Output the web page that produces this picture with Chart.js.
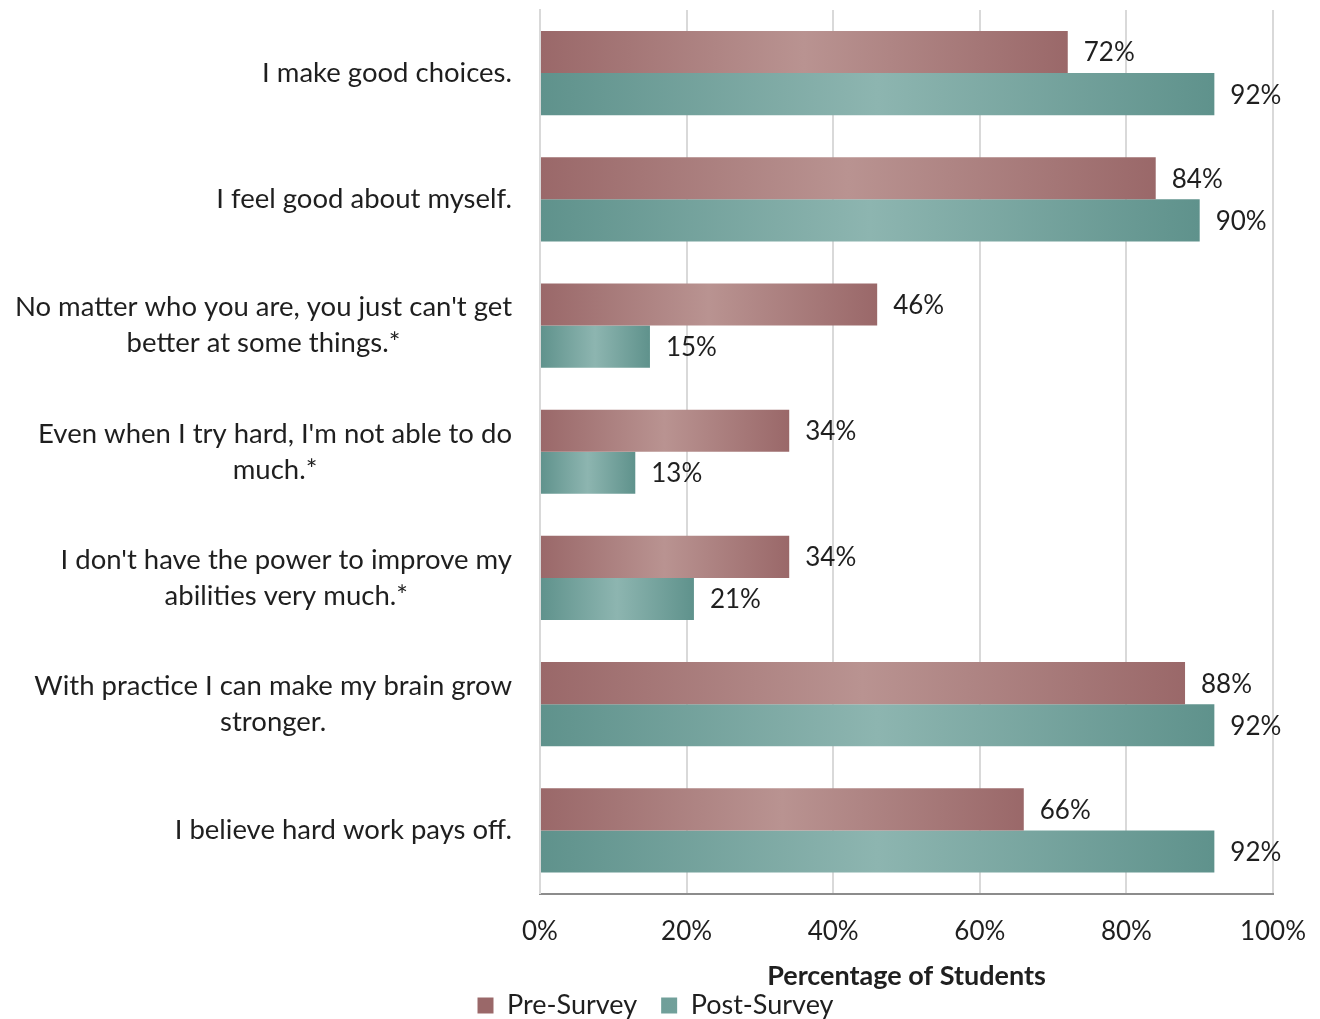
<!DOCTYPE html>
<html>
<head>
<meta charset="utf-8">
<script src="https://cdn.jsdelivr.net/npm/chart.js@4.4.1/dist/chart.umd.min.js"></script>
<style>
  html, body { margin: 0; padding: 0; background: #fff; }
  #wrap { width: 1320px; height: 1019px; }
</style>
</head>
<body>
<div id="wrap"><canvas id="myChart" width="1320" height="1019"></canvas></div>
<script>
const statements = [
  ["I make good choices."],
  ["I feel good about myself."],
  ["No matter who you are, you just can't get", "better at some things.*"],
  ["Even when I try hard, I'm not able to do", "much.*"],
  ["I don't have the power to improve my", "abilities very much.*"],
  ["With practice I can make my brain grow", "stronger."],
  ["I believe hard work pays off."]
];
const preSurvey = [72, 84, 46, 34, 34, 88, 66];
const postSurvey = [92, 90, 15, 13, 21, 92, 92];
const xTicks = [0, 20, 40, 60, 80, 100];

const FONT = "Lato, 'Open Sans', sans-serif";
const TEXT = '#1f1f1f';
const PAD_LEFT = 38;

// dark at both ends of the bar, lighter in the middle
function shaded(dark, light) {
  return function(ctx) {
    if (ctx.type !== 'data') return light;
    const chart = ctx.chart;
    if (!chart.chartArea) return light;
    const x = chart.scales.x;
    const x0 = x.getPixelForValue(0);
    const x1 = x.getPixelForValue(ctx.raw);
    if (x1 - x0 < 1) return dark;
    const g = chart.ctx.createLinearGradient(x0, 0, x1, 0);
    g.addColorStop(0, dark);
    g.addColorStop(0.5, light);
    g.addColorStop(1, dark);
    return g;
  };
}

// labels on the left: block right-aligned, lines centred to each other
const categoryLabels = {
  id: 'categoryLabels',
  afterDraw(chart) {
    const ctx = chart.ctx;
    const y = chart.scales.y;
    const right = chart.chartArea.left - 28;
    const lineH = 36;
    ctx.save();
    ctx.font = '27.5px ' + FONT;
    ctx.fillStyle = TEXT;
    ctx.textAlign = 'center';
    ctx.textBaseline = 'middle';
    statements.forEach((lines, i) => {
      const w = Math.max(...lines.map(l => ctx.measureText(l).width));
      const cx = right - w / 2;
      const cy = y.getPixelForValue(i);
      const top = cy - (lines.length - 1) * lineH / 2;
      lines.forEach((l, j) => ctx.fillText(l, cx, top + j * lineH));
    });
    ctx.restore();
  }
};

// value labels just past the end of each bar
const valueLabels = {
  id: 'valueLabels',
  afterDatasetsDraw(chart) {
    const ctx = chart.ctx;
    ctx.save();
    ctx.font = '26px ' + FONT;
    ctx.fillStyle = TEXT;
    ctx.textAlign = 'left';
    ctx.textBaseline = 'middle';
    chart.data.datasets.forEach((ds, di) => {
      chart.getDatasetMeta(di).data.forEach((bar, i) => {
        ctx.fillText(ds.data[i] + '%', bar.x + 16, bar.y + 1);
      });
    });
    ctx.restore();
  }
};

new Chart(document.getElementById('myChart'), {
  type: 'bar',
  data: {
    labels: statements.map(s => s.join(' ')),
    datasets: [
      {
        label: 'Pre-Survey',
        data: preSurvey,
        backgroundColor: shaded('#9a6869', '#b99391'),
        categoryPercentage: 0.667,
        barPercentage: 1.0
      },
      {
        label: 'Post-Survey',
        data: postSurvey,
        backgroundColor: shaded('#5f928c', '#8db5b0'),
        categoryPercentage: 0.667,
        barPercentage: 1.0
      }
    ]
  },
  options: {
    indexAxis: 'y',
    responsive: false,
    animation: false,
    layout: { padding: { top: 10, right: 47, left: PAD_LEFT, bottom: -10 } },
    scales: {
      x: {
        min: 0,
        max: 100,
        afterBuildTicks(scale) { scale.ticks = xTicks.map(v => ({ value: v })); },
        afterFit(scale) {
          scale.height = 74.5;
          scale.paddingLeft = 0;
          scale.paddingRight = 0;
        },
        grid: { color: '#d9d9d9', lineWidth: 2, drawTicks: false },
        border: { color: '#8c8c8c', width: 2 },
        ticks: {
          padding: 23,
          color: TEXT,
          font: { family: FONT, size: 26 },
          callback: v => v + '%'
        },
        title: {
          display: true,
          text: 'Percentage of Students',
          color: TEXT,
          font: { family: FONT, size: 27, weight: 'bold' },
          padding: { top: 0, bottom: -24 }
        }
      },
      y: {
        afterFit(scale) { scale.width = 540 - PAD_LEFT; },
        grid: { display: false },
        border: { color: '#d9d9d9', width: 2 },
        ticks: { display: false }
      }
    },
    plugins: {
      legend: {
        position: 'bottom',
        labels: {
          boxWidth: 16,
          boxHeight: 16,
          padding: 24,
          color: TEXT,
          font: { family: FONT, size: 27 }
        }
      },
      tooltip: { enabled: false }
    }
  },
  plugins: [categoryLabels, valueLabels]
});
</script>
</body>
</html>
